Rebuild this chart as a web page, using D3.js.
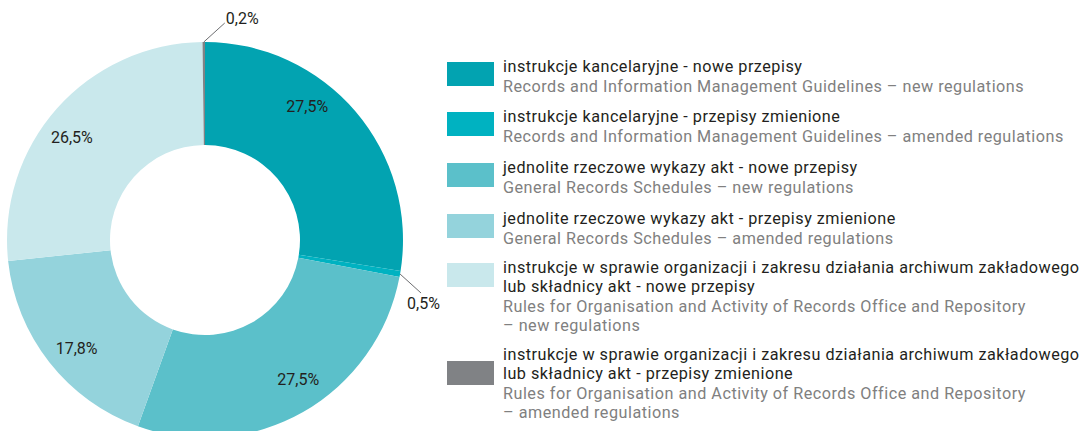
<!DOCTYPE html>
<html>
<head>
<meta charset="utf-8">
<script src="https://d3js.org/d3.v7.min.js"></script>
<style>
body { margin: 0; background: #fff; }
text { font-family: Roboto, "Noto Sans", sans-serif; }
.legend text { letter-spacing: 0.5px; }
</style>
</head>
<body>
<svg width="1085" height="431"></svg>
<script>
// data
const shares = [27.5, 0.5, 27.5, 17.8, 26.5, 0.2]
const shareLabels = ["27,5%", "0,5%", "27,5%", "17,8%", "26,5%", "0,2%"]
const colors = ["#02a3b1", "#00b2c1", "#5bc0ca", "#94d3dc", "#c9e8ec", "#808285"]
const legendPl = [
    ["instrukcje kancelaryjne - nowe przepisy"],
    ["instrukcje kancelaryjne - przepisy zmienione"],
    ["jednolite rzeczowe wykazy akt - nowe przepisy"],
    ["jednolite rzeczowe wykazy akt - przepisy zmienione"],
    ["instrukcje w sprawie organizacji i zakresu działania archiwum zakładowego", "lub składnicy akt  - nowe przepisy"],
    ["instrukcje w sprawie organizacji i zakresu działania archiwum zakładowego", "lub składnicy akt - przepisy zmienione"]
]
const legendEn = [
    ["Records and Information Management Guidelines – new regulations"],
    ["Records and Information Management Guidelines – amended regulations"],
    ["General Records Schedules – new regulations"],
    ["General Records Schedules – amended regulations"],
    ["Rules for Organisation and Activity of Records Office and Repository", "– new regulations"],
    ["Rules for Organisation and Activity of Records Office and Repository", " – amended regulations"]
]

const svg = d3.select("svg")
const cx = 205, cy = 240, rOuter = 198, rInner = 95

const pie = d3.pie().sort(null).value(d => d)
const arcs = pie(shares)
const arc = d3.arc().innerRadius(rInner).outerRadius(rOuter)

let g = svg.append("g").attr("transform", `translate(${cx},${cy})`)

g.selectAll("path.slice")
    .data(arcs)
    .enter()
    .append("path")
    .attr("class", "slice")
    .attr("d", arc)
    .attr("fill", (d, i) => colors[i])

// inside labels, nudged a bit along the ring
const nudge = [-12, 0, -4, -2, -4, 0]
const inside = [0, 2, 3, 4]
inside.forEach(i => {
    let d = arcs[i]
    let a = (d.startAngle + d.endAngle) / 2 + nudge[i] * Math.PI / 180
    let r = 168
    g.append("text")
        .attr("x", r * Math.sin(a))
        .attr("y", -r * Math.cos(a))
        .attr("dy", "0.35em")
        .attr("text-anchor", "middle")
        .attr("font-size", "16px")
        .attr("fill", "#231f20")
        .text(shareLabels[i])
})

// small slices: leader lines to outside labels
function leader(i, dx, dy, tx, ty) {
    let d = arcs[i]
    let a = (d.startAngle + d.endAngle) / 2
    let x0 = rOuter * Math.sin(a), y0 = -rOuter * Math.cos(a)
    g.append("line")
        .attr("x1", x0).attr("y1", y0)
        .attr("x2", x0 + dx).attr("y2", y0 + dy)
        .attr("stroke", "#6d6e71")
        .attr("stroke-width", 1)
    g.append("text")
        .attr("x", x0 + dx + tx)
        .attr("y", y0 + dy + ty)
        .attr("font-size", "16px")
        .attr("fill", "#231f20")
        .text(shareLabels[i])
}
leader(1, 21, 19, -14, 16)
leader(5, 21, -19, 1, 1)

// legend
const lx = 447, tx = 503, lh = 19
const rowY = [62, 112, 163, 214, 263, 361]
let lg = svg.append("g").attr("class", "legend")
legendPl.forEach((pl, i) => {
    let y = rowY[i]
    lg.append("rect")
        .attr("x", lx).attr("y", y)
        .attr("width", 47).attr("height", 24)
        .attr("fill", colors[i])
    let ty = (i === 5) ? y - 1 : y + 10
    pl.forEach((t, j) => {
        lg.append("text")
            .attr("x", tx).attr("y", ty + j * lh)
            .attr("font-size", "16.2px")
            .attr("fill", "#231f20")
            .text(t)
    })
    let ey = ty + pl.length * lh + 1
    legendEn[i].forEach((t, j) => {
        lg.append("text")
            .attr("x", tx).attr("y", ey + j * lh)
            .attr("font-size", "16.2px")
            .attr("fill", "#808080")
            .text(t)
    })
})
</script>
</body>
</html>
